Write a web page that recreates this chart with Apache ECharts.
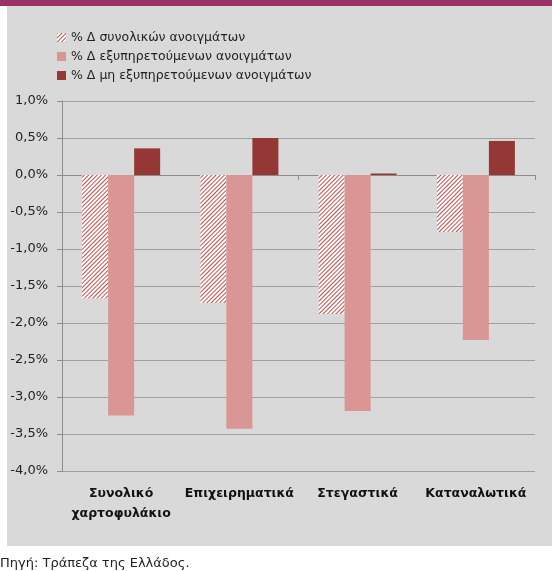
<!DOCTYPE html>
<html>
<head>
<meta charset="utf-8">
<script src="https://cdn.jsdelivr.net/npm/echarts@6/dist/echarts.min.js"></script>
<style>
  html, body { margin: 0; padding: 0; background: #fff; }
  #chart { width: 552px; height: 571px; }
</style>
</head>
<body>
<div id="chart"></div>
<script>
const categories = ["Συνολικό\nχαρτοφυλάκιο", "Επιχειρηματικά", "Στεγαστικά", "Καταναλωτικά"];
const seriesNames = [
  "% Δ συνολικών ανοιγμάτων",
  "% Δ εξυπηρετούμενων ανοιγμάτων",
  "% Δ μη εξυπηρετούμενων ανοιγμάτων"
];
const totalExposures = [-1.67, -1.73, -1.88, -0.77];
const performingExposures = [-3.25, -3.43, -3.19, -2.23];
const nonPerformingExposures = [0.36, 0.5, 0.02, 0.46];
const sourceText = "Πηγή: Τράπεζα της Ελλάδος.";

const font = "DejaVu Sans";
const chart = echarts.init(document.getElementById("chart"));

chart.setOption({
  backgroundColor: "#ffffff",
  animation: false,
  textStyle: { fontFamily: font },
  graphic: [
    { type: "rect", z: -10, shape: { x: 0, y: 0, width: 552, height: 6 }, style: { fill: "#993366" } },
    { type: "rect", z: -10, shape: { x: 7, y: 6, width: 545, height: 540 }, style: { fill: "#d9d9d9" } },
    { type: "text", left: 0, top: 557, style: { text: sourceText, fontSize: 13, fontFamily: font, fill: "#222" } }
  ],
  legend: {
    orient: "vertical",
    left: 52,
    top: 26,
    itemWidth: 9,
    itemHeight: 9,
    itemGap: 6,
    icon: "rect",
    textStyle: { fontSize: 12.5, color: "#222", fontFamily: font },
    data: seriesNames
  },
  grid: { left: 62, right: 17, top: 101, bottom: 100 },
  xAxis: [
    {
      type: "category",
      data: categories,
      axisLine: { onZero: true, lineStyle: { color: "#8c8c8c" } },
      axisTick: { show: true, length: 5, lineStyle: { color: "#8c8c8c" } },
      axisLabel: { show: false }
    },
    {
      type: "category",
      data: categories,
      position: "bottom",
      axisLine: { show: false, onZero: false },
      axisTick: { show: false },
      axisLabel: {
        margin: 13,
        fontSize: 12.5,
        fontWeight: "bold",
        color: "#111",
        lineHeight: 20,
        fontFamily: font,
        interval: 0
      }
    }
  ],
  yAxis: {
    type: "value",
    min: -4,
    max: 1,
    interval: 0.5,
    axisLine: { show: true, lineStyle: { color: "#8c8c8c" } },
    axisTick: { show: true, length: 5, lineStyle: { color: "#8c8c8c" } },
    splitLine: { lineStyle: { color: "#a0a0a0" } },
    axisLabel: {
      margin: 14,
      fontSize: 13,
      color: "#222",
      fontFamily: font,
      formatter: v => v.toFixed(1).replace(".", ",") + "%"
    }
  },
  series: [
    {
      name: seriesNames[0], type: "bar", data: totalExposures,
      barGap: "0%", barCategoryGap: "34%",
      itemStyle: {
        color: "#ffffff",
        decal: {
          symbol: "rect",
          color: "#c0504d",
          dashArrayX: [1, 0],
          dashArrayY: [1, 1.5],
          rotation: -Math.PI / 4,
          symbolSize: 1
        }
      }
    },
    {
      name: seriesNames[1], type: "bar", data: performingExposures,
      itemStyle: { color: "#d99694" }
    },
    {
      name: seriesNames[2], type: "bar", data: nonPerformingExposures,
      itemStyle: { color: "#953735" }
    }
  ]
});
</script>
</body>
</html>
